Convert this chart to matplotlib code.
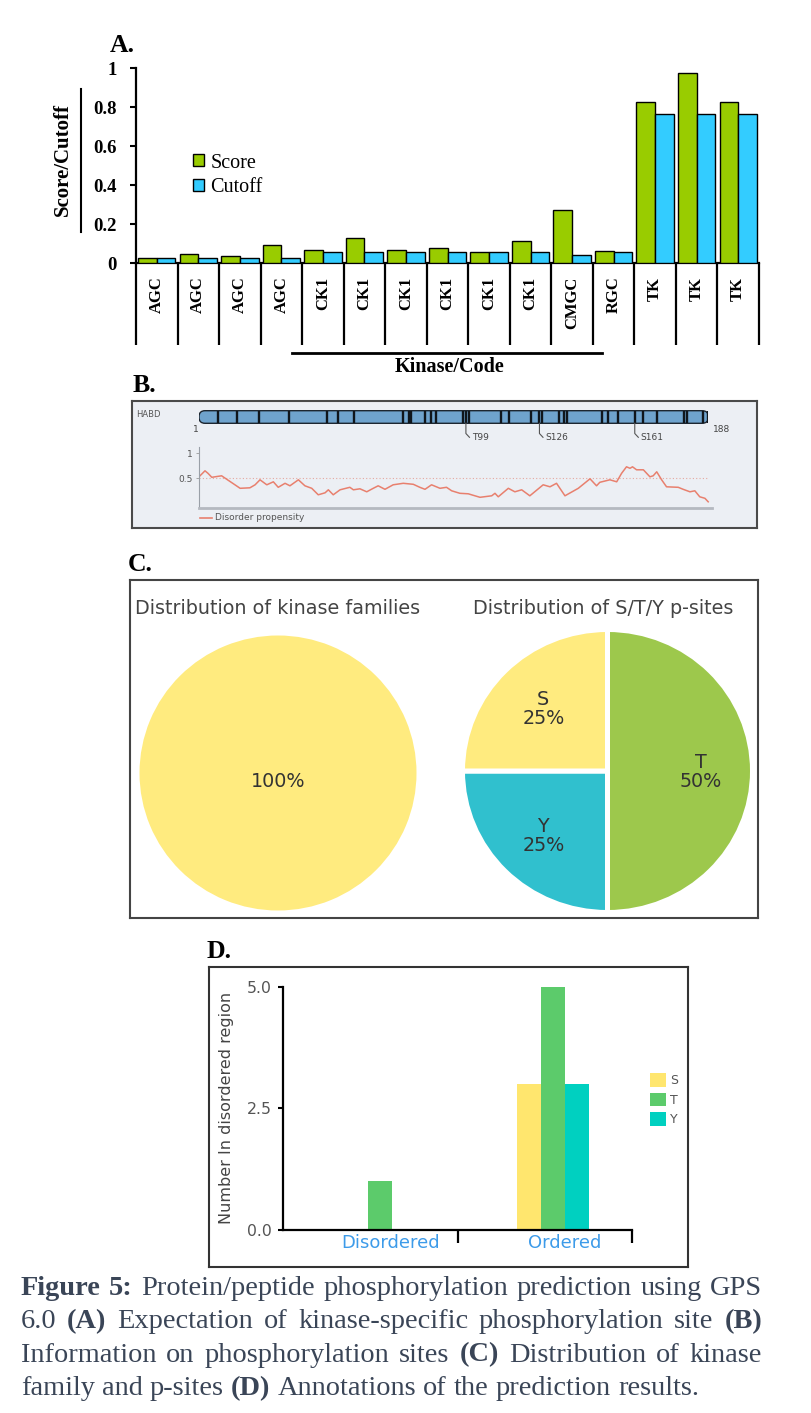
import numpy as np
import matplotlib
matplotlib.use("Agg")
import matplotlib.pyplot as plt
from matplotlib.patches import FancyBboxPatch, Patch
from matplotlib.lines import Line2D

W, H, DPI = 811, 1413, 100

# ---------------- Panel A data ----------------
kinase_codes = ['AGC', 'AGC', 'AGC', 'AGC', 'CK1', 'CK1', 'CK1', 'CK1', 'CK1', 'CK1',
                'CMGC', 'RGC', 'TK', 'TK', 'TK']
scores = [0.026, 0.046, 0.039, 0.094, 0.066, 0.128, 0.066, 0.078, 0.058, 0.112,
          0.272, 0.064, 0.828, 0.975, 0.828]
cutoffs = [0.026, 0.026, 0.026, 0.026, 0.058, 0.058, 0.058, 0.058, 0.058, 0.058,
           0.043, 0.058, 0.766, 0.766, 0.766]

# ---------------- Panel B data ----------------
protein_name = 'HABD'
protein_length = 188
site_positions = [8, 15, 23, 34, 48, 52, 58, 76, 78, 79, 84, 86, 88, 98, 99, 100,
                  112, 115, 123, 126, 127, 133, 135, 136, 149, 151, 155, 161, 164,
                  169, 179, 180, 186, 188]
labeled_sites = ['T99', 'S126', 'S161']
labeled_positions = [99, 126, 161]
disorder_pos = [1, 3.2, 4.3, 5.7, 9.3, 11.2, 14.2, 16.1, 19.7, 21.6, 23.4, 25.9, 28.3,
                30.1, 32.6, 34.4, 37.5, 39.9, 42.4, 44.8, 47.3, 48.5, 50.3, 52.8, 56.4,
                57.7, 60.1, 62.6, 65.0, 66.8, 69.3, 72.3, 76.0, 79.7, 82.1, 84.0, 86.4,
                89.5, 91.9, 93.8, 96.8, 99.9, 101.1, 104.2, 108.5, 109.7, 110.9, 114.6,
                117.0, 119.5, 122.5, 127.4, 129.9, 132.3, 135.4, 140.3, 144.6, 147.0,
                148.2, 151.9, 154.4, 156.2, 158.0, 159.3, 160.2, 161.7, 164.2, 166.6,
                167.8, 169.1, 170.9, 172.7, 177.0, 178.8, 181.3, 183.1, 184.9, 186.8, 188]
disorder_val = [0.53, 0.65, 0.60, 0.52, 0.55, 0.48, 0.37, 0.30, 0.31, 0.37, 0.47, 0.37,
                0.43, 0.32, 0.40, 0.35, 0.47, 0.35, 0.30, 0.17, 0.21, 0.27, 0.17, 0.27,
                0.32, 0.27, 0.29, 0.23, 0.30, 0.35, 0.28, 0.37, 0.40, 0.38, 0.32, 0.28,
                0.37, 0.30, 0.32, 0.25, 0.20, 0.19, 0.17, 0.12, 0.15, 0.20, 0.13, 0.30,
                0.23, 0.27, 0.15, 0.37, 0.33, 0.40, 0.15, 0.30, 0.49, 0.35, 0.42, 0.47,
                0.43, 0.60, 0.73, 0.70, 0.73, 0.67, 0.67, 0.53, 0.55, 0.63, 0.47, 0.33,
                0.32, 0.28, 0.23, 0.25, 0.13, 0.10, 0.03]

# ---------------- Panel C data ----------------
family_share = [100]
site_types = ['S', 'T', 'Y']
site_share = [25, 50, 25]

# ---------------- Panel D data ----------------
regions = ['Disordered', 'Ordered']
count_S = [0, 3]
count_T = [1, 5]
count_Y = [0, 3]

SERIF = 'Liberation Serif'
SANS = 'DejaVu Sans'
CAP_FONT = 'Liberation Serif'

fig = plt.figure(figsize=(W / DPI, H / DPI), dpi=DPI, facecolor='white')


def ax_px(x0, y0, x1, y1, **kw):
    return fig.add_axes([x0 / W, 1 - y1 / H, (x1 - x0) / W, (y1 - y0) / H], **kw)


def ftext(x, y, s, **kw):
    return fig.text(x / W, 1 - y / H, s, **kw)


def fline(xs, ys, **kw):
    fig.add_artist(Line2D([x / W for x in xs], [1 - y / H for y in ys],
                          transform=fig.transFigure, **kw))


# ======================= Panel A =======================
ftext(110, 51.7, 'A.', family=SERIF, fontweight='bold', fontsize=18.5, va='baseline')
axA = ax_px(136, 68.3, 759, 263.3)
axA.patch.set_alpha(0)
xA = np.arange(len(kinase_codes))
bw = 0.45
axA.bar(xA - bw / 2, scores, bw, color='#99CC00', edgecolor='black', linewidth=1.0, zorder=3)
axA.bar(xA + bw / 2, cutoffs, bw, color='#33CCFF', edgecolor='black', linewidth=1.0, zorder=3)
axA.set_xlim(-0.5, len(kinase_codes) - 0.5)
axA.set_ylim(0, 1)
for s in ['top', 'right']:
    axA.spines[s].set_visible(False)
for s in ['left', 'bottom']:
    axA.spines[s].set_linewidth(1.6)
axA.set_yticks([0, 0.2, 0.4, 0.6, 0.8, 1.0])
axA.set_yticklabels(['0', '0.2', '0.4', '0.6', '0.8', '1'], family=SERIF,
                    fontweight='bold', fontsize=13.5)
axA.tick_params(axis='y', length=4.3, width=1.5, pad=9.5)
axA.set_xticks(xA)
axA.set_xticklabels(kinase_codes, rotation=90, family=SERIF, fontweight='bold', fontsize=12)
axA.tick_params(axis='x', length=0, pad=9.6)
for b in np.arange(-0.5, len(kinase_codes), 1.0):
    axA.plot([b, b], [0, -0.419], color='black', lw=1.6, clip_on=False, solid_capstyle='butt')
axA.plot([3.25, 10.72], [-0.4615, -0.4615], color='black', lw=2.0, clip_on=False)
axA.text(7.04, -0.532, 'Kinase/Code', ha='center', va='center', family=SERIF,
         fontweight='bold', fontsize=14.5)
ftext(63.3, 159.2, 'Score/Cutoff', rotation=90, ha='center', va='center', family=SERIF,
      fontweight='bold', fontsize=15)
fline([80.7, 80.7], [89.3, 231.7], color='black', lw=1.5)
handles = [Patch(facecolor='#99CC00', edgecolor='black', lw=1.0),
           Patch(facecolor='#33CCFF', edgecolor='black', lw=1.0)]
fig.legend(handles, ['Score', 'Cutoff'], loc='upper left',
           bbox_to_anchor=(193.3 / W, 1 - 153.5 / H), frameon=False,
           prop={'family': SERIF, 'size': 14.5}, handlelength=0.55, handleheight=0.55,
           handletextpad=0.3, labelspacing=0.27, borderpad=0, borderaxespad=0)

# ======================= Panel B =======================
ftext(133, 391.7, 'B.', family=SERIF, fontweight='bold', fontsize=18.5, va='baseline')
axBb = ax_px(131.7, 400.7, 756.7, 528.3)
axBb.set_facecolor('#ECEFF4')
axBb.set_xticks([])
axBb.set_yticks([])
for s in axBb.spines.values():
    s.set_color('#4a4a4a')
    s.set_linewidth(1.5)
ftext(135.7, 414.3, protein_name, fontsize=6, color='#555555', va='center', family=SANS)

axP = ax_px(199, 404, 708.3, 446)
axP.set_xlim(1, protein_length)
axP.set_ylim(446, 404)
axP.axis('off')
x_per_px = (protein_length - 1) / (708.3 - 199)
bar = FancyBboxPatch((1, 410.7), protein_length - 1, 12.6,
                     boxstyle='round,pad=0,rounding_size=%.3f' % (6 * x_per_px),
                     mutation_aspect=1 / x_per_px, facecolor='#6FA3CD',
                     edgecolor='#1d2630', linewidth=1.0)
axP.add_patch(bar)
axP.vlines(site_positions, 411.3, 422.7, color='#10161c', lw=1.7)
for lab, r in zip(labeled_sites, labeled_positions):
    axP.plot([r, r, r + 1.3], [423.3, 433.5, 437.3], color='#555555', lw=0.8)
    axP.text(r + 2.1, 437.7, lab, fontsize=6.5, color='#444444', va='center', ha='left',
             family=SANS)
axP.text(-0.1, 430, '1', fontsize=6.5, color='#444444', va='center', ha='center', family=SANS)
axP.text(189.8, 429.5, str(protein_length), fontsize=6.5, color='#444444', va='center',
         ha='left', family=SANS)

axDis = ax_px(199, 446.7, 712, 508.3)
axDis.patch.set_alpha(0)
axDis.set_xlim(1, 189.4)
axDis.set_ylim(-0.1, 1.132)
axDis.plot([1, protein_length], [0.5, 0.5], ls=(0, (1, 2)), color='#E5A9A0', lw=0.8)
axDis.plot(disorder_pos, disorder_val, color='#E8806E', lw=1.1)
for s in ['top', 'right']:
    axDis.spines[s].set_visible(False)
axDis.spines['left'].set_color('#9aa0a8')
axDis.spines['left'].set_linewidth(0.8)
axDis.spines['bottom'].set_color('#B5B9C0')
axDis.spines['bottom'].set_linewidth(2.0)
axDis.set_xticks([])
axDis.set_yticks([0.5, 1])
axDis.set_yticklabels(['0.5', '1'], fontsize=6.5, color='#555555', family=SANS)
axDis.tick_params(axis='y', length=2.5, width=0.6, color='#999999', pad=2)
fline([200, 211.7], [517.7, 517.7], color='#E8806E', lw=1.2)
ftext(215, 517.7, 'Disorder propensity', fontsize=6.5, color='#555555', va='center',
      family=SANS)

# ======================= Panel C =======================
ftext(128, 571, 'C.', family=SERIF, fontweight='bold', fontsize=18.5, va='baseline')
axCb = ax_px(130, 580, 758.3, 918)
axCb.set_xticks([])
axCb.set_yticks([])
for s in axCb.spines.values():
    s.set_color('#444444')
    s.set_linewidth(1.5)
ftext(135, 608, 'Distribution of kinase families', fontsize=13.8, color='#444444',
      va='center', family=SANS)
ftext(473, 608, 'Distribution of S/T/Y p-sites', fontsize=13.8, color='#444444',
      va='center', family=SANS)

axC1 = ax_px(139.5, 635.5, 416.5, 910.5)
axC1.pie(family_share, colors=['#FFEB7F'], startangle=90, wedgeprops={'linewidth': 0})
axC1.set_aspect('auto')
axC1.set_xlim(-1, 1)
axC1.set_ylim(-1, 1)
axC1.axis('off')
axC1.text(0, -0.063, '100%', ha='center', va='center', fontsize=13.8, color='#333333',
          family=SANS)

axC2 = ax_px(462.5, 629.5, 752.5, 912.5)
pie_colors = {'S': '#FFEB7F', 'T': '#9DC84C', 'Y': '#30C0CE'}
order = [1, 2, 0]  # T, Y, S clockwise from top
axC2.pie([site_share[i] for i in order], colors=[pie_colors[site_types[i]] for i in order],
         startangle=90, counterclock=False,
         wedgeprops={'linewidth': 3.6, 'edgecolor': 'white'})
axC2.set_aspect('auto')
axC2.set_xlim(-1, 1)
axC2.set_ylim(-1, 1)
axC2.axis('off')
label_xy = {'S': (-0.443, 0.438), 'T': (0.643, -0.007), 'Y': (-0.443, -0.456)}
for t, v in zip(site_types, site_share):
    axC2.text(label_xy[t][0], label_xy[t][1], '%s\n%d%%' % (t, v), ha='center', va='center',
              fontsize=13.8, color='#333333', family=SANS, linespacing=1.0)

# ======================= Panel D =======================
ftext(207, 958.3, 'D.', family=SERIF, fontweight='bold', fontsize=18.5, va='baseline')
axDb = ax_px(209.3, 966.7, 688.3, 1266.5)
axDb.set_xticks([])
axDb.set_yticks([])
for s in axDb.spines.values():
    s.set_color('#333333')
    s.set_linewidth(1.5)

axD = ax_px(283.3, 986.7, 631.7, 1230)
axD.patch.set_alpha(0)
xD = np.arange(len(regions))
wD = 0.1385
bS = axD.bar(xD - wD, count_S, wD, color='#FFE66E', linewidth=0)
bT = axD.bar(xD, count_T, wD, color='#5CCB6B', linewidth=0)
bY = axD.bar(xD + wD, count_Y, wD, color='#00D0C0', linewidth=0)
axD.set_xlim(-0.556, 1.454)
axD.set_ylim(0, 5)
for s in ['top', 'right']:
    axD.spines[s].set_visible(False)
for s in ['left', 'bottom']:
    axD.spines[s].set_linewidth(1.6)
axD.set_yticks([0, 2.5, 5.0])
axD.set_yticklabels(['0.0', '2.5', '5.0'], fontsize=11.3, color='#555555', family=SANS)
axD.tick_params(axis='y', length=3.6, width=1.5, pad=4.5)
axD.set_xticks([0.065, 1.069])
axD.set_xticklabels(regions, fontsize=13, color='#3D9BE9', family=SANS)
axD.tick_params(axis='x', which='major', length=0, pad=3)
axD.set_xticks([0.4535, 1.4535], minor=True)
axD.tick_params(axis='x', which='minor', length=9.6, width=1.6, direction='out')
ftext(226.7, 1108, 'Number In disordered region', rotation=90, ha='center', va='center',
      fontsize=11.5, color='#444444', family=SANS)
fig.legend([bS, bT, bY], site_types, loc='upper left',
           bbox_to_anchor=(650 / W, 1 - 1073.3 / H), frameon=False,
           prop={'family': SANS, 'size': 9}, labelcolor='#555555',
           handlelength=1.26, handleheight=1.28, handletextpad=0.35, labelspacing=0.45,
           borderpad=0, borderaxespad=0)

# ======================= Caption =======================
caption_lines = [
    "Figure 5: Protein/peptide phosphorylation prediction using GPS",
    "6.0 (A) Expectation of kinase-specific phosphorylation site (B)",
    "Information on phosphorylation sites (C) Distribution of kinase",
    "family and p-sites (D) Annotations of the prediction results.",
]
bold_words = {'Figure', '5:', '(A)', '(B)', '(C)', '(D)'}
cap_color = '#3a4557'
renderer = fig.canvas.get_renderer()


def tw(s, fs, bold=False):
    t = fig.text(0, 0, s, fontsize=fs, family=CAP_FONT,
                 fontweight='bold' if bold else 'normal')
    w = t.get_window_extent(renderer).width
    t.remove()
    return w


fs0 = 10.0
sp0 = tw('n n', fs0) - tw('nn', fs0)
words4 = caption_lines[3].split()
w4 = sum(tw(w, fs0, w in bold_words) for w in words4) + sp0 * (len(words4) - 1)
fs = fs0 * 680.0 / w4
for ln in caption_lines[:3]:
    ws = ln.split()
    need = sum(tw(w, fs0, w in bold_words) for w in ws) + 0.6 * sp0 * (len(ws) - 1)
    fs = min(fs, fs0 * 742.0 / need)
space = tw('n n', fs) - tw('nn', fs)
baselines = [1295, 1328.3, 1361.6, 1395]
x_left, x_right = 20.7, 762.0
for i, ln in enumerate(caption_lines):
    ws = ln.split()
    widths = [tw(w, fs, w in bold_words) for w in ws]
    if i < len(caption_lines) - 1:
        gap = (x_right - x_left - sum(widths)) / (len(ws) - 1)
    else:
        gap = space
    x = x_left
    for w, wd in zip(ws, widths):
        ftext(x, baselines[i], w, fontsize=fs, family=CAP_FONT, color=cap_color,
              fontweight='bold' if w in bold_words else 'normal', va='baseline', ha='left')
        x += wd + gap

fig.savefig('out.png', dpi=DPI, facecolor='white')
